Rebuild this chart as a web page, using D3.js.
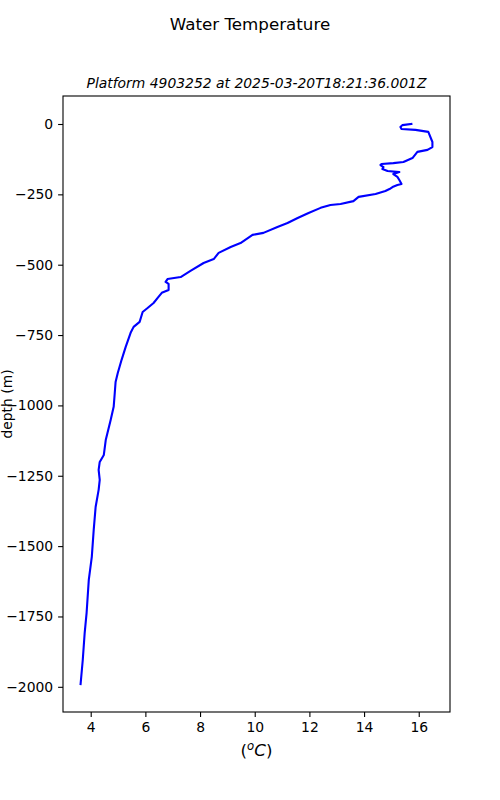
<!DOCTYPE html>
<html>
<head>
<meta charset="utf-8">
<script src="https://cdn.jsdelivr.net/npm/d3@7"></script>
<style>
  body { margin: 0; background: #fff; }
  svg { font-family: 'DejaVu Sans', sans-serif; }
</style>
</head>
<body>
<div id="chart"></div>
<script>
const width = 500;
const height = 800;
const margin = { top: 96, right: 50, bottom: 88, left: 63 };

// profile: temperature (degC) and depth (m)
const temperature = [
  15.73, 15.40, 15.33, 15.37, 15.88, 16.35, 16.50, 16.50, 16.32, 15.95,
  15.77, 15.44, 15.07, 14.64, 14.60, 14.71, 14.67, 14.86, 15.29, 15.07,
  15.22, 15.29, 15.37, 15.22, 15.04, 14.93, 14.78, 14.42, 13.80, 13.61,
  13.14, 12.77, 12.41, 11.97, 11.57, 11.20, 10.83, 10.32, 9.92, 9.48,
  9.12, 8.68, 8.50, 8.13, 7.65, 7.29, 6.81, 6.74, 6.85, 6.85,
  6.60, 6.45, 6.30, 6.08, 5.90, 5.79, 5.57, 5.46, 5.28, 5.13,
  4.99, 4.91, 4.88, 4.84, 4.73, 4.55, 4.48, 4.33, 4.29, 4.33,
  4.29, 4.18, 4.11, 4.04, 3.93, 3.85, 3.78, 3.71, 3.63
];
const depth = [
  0, -4, -11, -18, -21, -28, -64, -82, -92, -99,
  -121, -135, -139, -142, -146, -153, -160, -167, -171, -178,
  -188, -199, -213, -217, -224, -231, -238, -249, -259, -274,
  -284, -288, -298, -316, -334, -352, -366, -387, -394, -423,
  -437, -458, -480, -494, -522, -544, -551, -561, -568, -590,
  -600, -618, -636, -654, -668, -703, -721, -742, -792, -838,
  -885, -917, -956, -1005, -1052, -1123, -1176, -1201, -1229, -1265,
  -1300, -1361, -1442, -1538, -1620, -1737, -1808, -1904, -1990
];
const xTicks = [4, 6, 8, 10, 12, 14, 16];
const yTicks = [0, -250, -500, -750, -1000, -1250, -1500, -1750, -2000];

const points = temperature.map((t, i) => ({ t, d: depth[i] }));

// matplotlib style 5% padding
function padded (ext) {
  const p = (ext[1] - ext[0]) * 0.05;
  return [ext[0] - p, ext[1] + p];
}

const iw = width - margin.left - margin.right;
const ih = height - margin.top - margin.bottom;

const x = d3.scaleLinear()
  .domain(padded(d3.extent(temperature)))
  .range([margin.left, margin.left + iw]);
const y = d3.scaleLinear()
  .domain(padded(d3.extent(depth)))
  .range([margin.top + ih, margin.top]);

const svg = d3.select('#chart').append('svg')
  .attr('width', width)
  .attr('height', height);

const fmt = v => String(v).replace('-', '\u2212');

svg.append('g')
  .attr('transform', `translate(0,${margin.top + ih})`)
  .call(d3.axisBottom(x).tickValues(xTicks).tickFormat(fmt).tickSize(4.9).tickPadding(4.9))
  .call(g => g.select('.domain').remove())
  .selectAll('text').attr('font-size', '13.9px').attr('fill', '#000')
  .attr('font-family', "'DejaVu Sans', sans-serif");

svg.append('g')
  .attr('transform', `translate(${margin.left},0)`)
  .call(d3.axisLeft(y).tickValues(yTicks).tickFormat(fmt).tickSize(4.9).tickPadding(4.9))
  .call(g => g.select('.domain').remove())
  .selectAll('text').attr('font-size', '13.9px').attr('fill', '#000')
  .attr('font-family', "'DejaVu Sans', sans-serif");

svg.selectAll('.tick line').attr('stroke', '#000').attr('stroke-width', 1.1);

const line = d3.line().x(d => x(d.t)).y(d => y(d.d));

svg.append('path')
  .datum(points)
  .attr('d', line)
  .attr('fill', 'none')
  .attr('stroke', '#0000ff')
  .attr('stroke-width', 2.1)
  .attr('stroke-linejoin', 'round')
  .attr('stroke-linecap', 'square');

svg.append('rect')
  .attr('x', margin.left)
  .attr('y', margin.top)
  .attr('width', iw)
  .attr('height', ih)
  .attr('fill', 'none')
  .attr('stroke', '#000')
  .attr('stroke-width', 1.1);

svg.append('text')
  .attr('x', width / 2)
  .attr('y', 30)
  .attr('text-anchor', 'middle')
  .attr('font-size', '16.7px')
  .text('Water Temperature');

svg.append('text')
  .attr('x', margin.left + iw / 2)
  .attr('y', 88)
  .attr('text-anchor', 'middle')
  .attr('font-size', '13.9px')
  .attr('font-style', 'italic')
  .text('Platform 4903252 at 2025-03-20T18:21:36.001Z');

const xl = svg.append('text')
  .attr('x', margin.left + iw / 2)
  .attr('y', 756)
  .attr('text-anchor', 'middle')
  .attr('font-size', '16.7px');
xl.append('tspan').text('(');
xl.append('tspan').attr('font-style', 'italic').attr('font-size', '11.7px').attr('dy', -6).text('o');
xl.append('tspan').attr('font-style', 'italic').attr('dy', 6).text('C');
xl.append('tspan').text(')');

svg.append('text')
  .attr('transform', `translate(12,${margin.top + ih / 2}) rotate(-90)`)
  .attr('text-anchor', 'middle')
  .attr('font-size', '13.9px')
  .text('depth (m)');
</script>
</body>
</html>
